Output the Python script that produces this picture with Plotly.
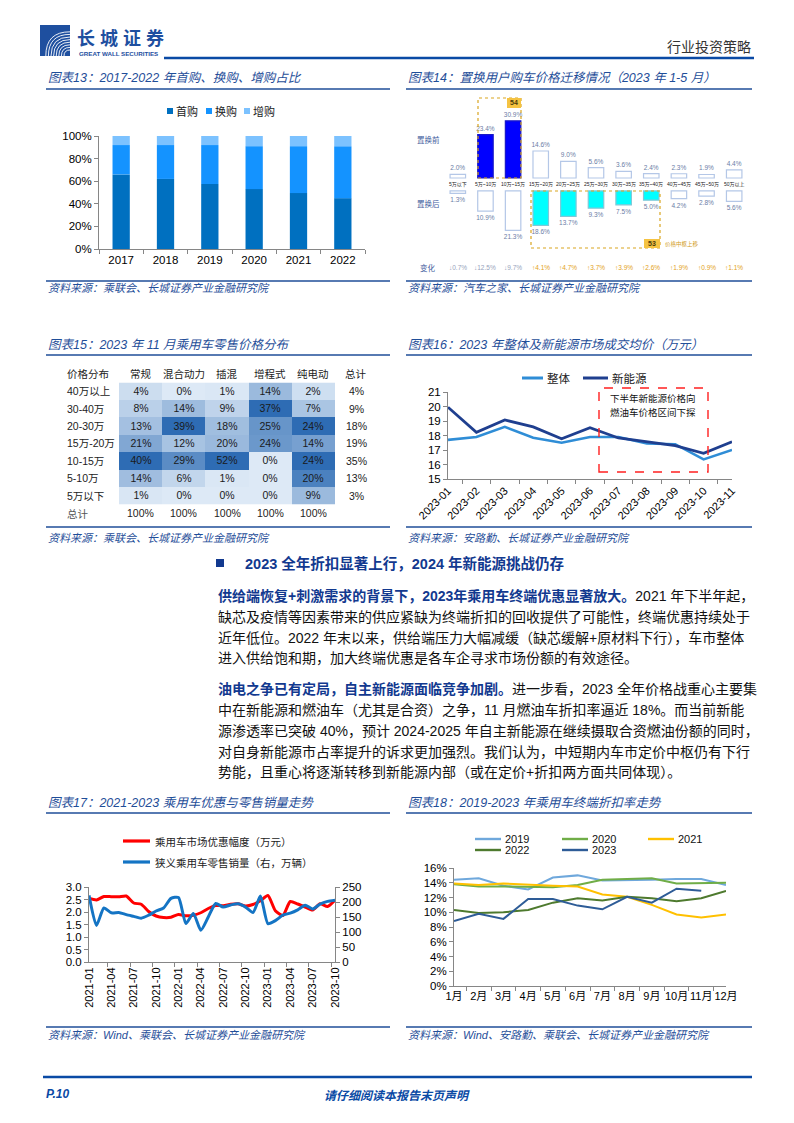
import plotly.graph_objects as go

W, H = 794, 1123
def X(p): return p / W
def Y(p): return 1 - p / H

BLUE = '#1F4E99'
NAVY = '#12398F'
SANS = 'Liberation Sans, Noto Sans CJK SC'
CJK = 'Noto Sans CJK SC, Liberation Sans'

# ---------------- data ----------------
# Chart 13
years13 = ['2017', '2018', '2019', '2020', '2021', '2022']
first_buy13 = [0.66, 0.62, 0.575, 0.53, 0.495, 0.45]
replace_buy13 = [0.26, 0.30, 0.345, 0.38, 0.415, 0.46]
add_buy13 = [0.08, 0.08, 0.08, 0.09, 0.09, 0.09]

# Chart 14
bands14 = ['5万以下', '5万~10万', '10万~15万', '15万~20万', '20万~25万', '25万~30万',
           '30万~35万', '35万~40万', '40万~45万', '45万~50万', '50万以上']
before14 = [2.0, 23.4, 30.9, 14.6, 9.0, 5.6, 3.6, 2.4, 2.3, 1.9, 4.4]
after14 = [1.3, 10.9, 21.3, 18.6, 13.7, 9.3, 7.5, 5.0, 4.2, 2.8, 5.6]
change14 = ['↓0.7%', '↓12.5%', '↓9.7%', '↑4.1%', '↑4.7%', '↑3.7%', '↑3.9%', '↑2.6%', '↑1.9%', '↑0.9%', '↑1.1%']
hl_before14 = ['5万~10万', '10万~15万']
hl_after14 = ['15万~20万', '20万~25万', '25万~30万', '30万~35万', '35万~40万']

# Chart 15
rows15 = ['40万以上', '30-40万', '20-30万', '15万-20万', '10-15万', '5-10万', '5万以下']
cols15 = ['常规', '混合动力', '插混', '增程式', '纯电动']
dist15 = {
    '常规': [4, 8, 13, 21, 40, 14, 1],
    '混合动力': [0, 14, 39, 12, 29, 6, 0],
    '插混': [1, 9, 18, 20, 52, 1, 0],
    '增程式': [14, 37, 25, 24, 0, 0, 0],
    '纯电动': [2, 7, 24, 14, 24, 20, 9],
}
row_total15 = [4, 9, 18, 19, 35, 13, 3]
col_total15 = [100, 100, 100, 100, 100]

# Chart 16
months16 = ['2023-01', '2023-02', '2023-03', '2023-04', '2023-05', '2023-06',
            '2023-07', '2023-08', '2023-09', '2023-10', '2023-11']
overall16 = [17.7, 17.9, 18.6, 17.85, 17.5, 17.9, 17.9, 17.45, 17.4, 16.35, 17.0]
nev16 = [19.95, 18.22, 19.07, 18.59, 17.78, 18.54, 17.83, 17.57, 17.3, 16.77, 17.57]

# Chart 17
months17 = ['2021-01', '2021-02', '2021-03', '2021-04', '2021-05', '2021-06',
            '2021-07', '2021-08', '2021-09', '2021-10', '2021-11', '2021-12',
            '2022-01', '2022-02', '2022-03', '2022-04', '2022-05', '2022-06',
            '2022-07', '2022-08', '2022-09', '2022-10', '2022-11', '2022-12',
            '2023-01', '2023-02', '2023-03', '2023-04', '2023-05', '2023-06',
            '2023-07', '2023-08', '2023-09', '2023-10']
discount17 = [2.55, 2.48, 2.62, 2.61, 2.61, 2.64, 2.36, 2.31, 2.02, 1.84, 1.78, 1.79,
              1.90, 1.85, 1.87, 1.97, 2.14, 2.26, 2.25, 2.31, 2.33, 2.24, 2.30, 2.45,
              2.66, 2.05, 1.86, 2.42, 2.32, 2.20, 2.08, 2.33, 2.22, 2.48]
sales17 = [222, 122, 180, 164, 165, 158, 152, 146, 156, 170, 180, 212,
           215, 128, 162, 106, 150, 195, 183, 190, 194, 183, 165, 220,
           128, 138, 156, 163, 174, 189, 177, 193, 202, 206]

# Chart 18
months18 = ['1月', '2月', '3月', '4月', '5月', '6月', '7月', '8月', '9月', '10月', '11月', '12月']
rate2019 = [0.144, 0.146, 0.136, 0.131, 0.147, 0.150, 0.143, 0.143, 0.144, 0.145, 0.145, 0.137]
rate2020 = [0.138, 0.135, 0.135, 0.134, 0.134, 0.137, 0.144, 0.145, 0.146, 0.139, 0.140, 0.140]
rate2021 = [0.139, 0.137, 0.139, 0.137, 0.136, 0.135, 0.124, 0.121, 0.110, 0.097, 0.093, 0.097]
rate2022 = [0.103, 0.099, 0.100, 0.103, 0.113, 0.119, 0.116, 0.121, 0.119, 0.115, 0.119, 0.129]
rate2023 = [0.088, 0.098, 0.091, 0.118, 0.118, 0.109, 0.104, 0.121, 0.113, 0.132, 0.129]

# ---------------- helpers ----------------
shapes = []
ann = []

def text(x, y, s, size=11, color='#000', family=SANS, xanchor='left', yanchor='middle',
         bold=False, italic=False, xref='paper', yref='paper', raw_x=False, raw_y=False):
    ann.append(dict(
        x=x if raw_x else X(x), y=y if raw_y else Y(y), xref=xref, yref=yref, text=s,
        showarrow=False, xanchor=xanchor, yanchor=yanchor, borderpad=0,
        font=dict(size=size, color=color, family=family,
                  weight='bold' if bold else 'normal',
                  style='italic' if italic else 'normal')))

def hline(x0, x1, y, color=BLUE, width=1.3, dash=None):
    shapes.append(dict(type='line', xref='paper', yref='paper', x0=X(x0), x1=X(x1),
                       y0=Y(y), y1=Y(y), line=dict(color=color, width=width, dash=dash)))

def rect(x0, y0, x1, y1, fill='rgba(0,0,0,0)', lcolor=None, lw=1, dash=None):
    shapes.append(dict(type='rect', xref='paper', yref='paper', x0=X(x0), x1=X(x1),
                       y0=Y(y1), y1=Y(y0), fillcolor=fill,
                       line=dict(color=lcolor or 'rgba(0,0,0,0)', width=lw if lcolor else 0, dash=dash)))

fig = go.Figure()

# ---------------- header / footer ----------------
rect(40, 25, 70, 56, fill='#1E4F9F')
for i in range(8):
    r = 6 + 2.6 * i
    x0, y0 = 70 - r, 56
    x1, y1 = 70, 56 - r
    shapes.append(dict(type='path', xref='paper', yref='paper',
                       path=f'M {X(x0)},{Y(y0)} Q {X(x0)},{Y(y1)} {X(x1)},{Y(y1)}',
                       line=dict(color='white', width=0.9)))
for i, ch in enumerate('长城证券'):
    text(86 + 23 * i, 37, ch, size=18, color='#1E4F9F', family=CJK, xanchor='center', bold=True)
text(78, 53.5, 'GREAT WALL SECURITIES', size=6.2, color='#1E4F9F', bold=True)
text(752, 46, '行业投资策略', size=14, color='#333333', family=CJK, xanchor='right')
hline(164, 754, 58, color='#0A4AA5', width=2.6)

hline(43, 752, 1077, color='#0A4AA5', width=2.6)
text(45, 1094, 'P.10', size=12, color='#0A4AA5', bold=True, italic=True)
text(397, 1094, '请仔细阅读本报告末页声明', size=12, color='#0A4AA5', family=CJK,
     xanchor='center', bold=True, italic=True)

# ---------------- titles & sources ----------------
titles = [
    (47, 78, '图表13：2017-2022 年首购、换购、增购占比'),
    (407, 78, '图表14：置换用户购车价格迁移情况（2023 年 1-5 月）'),
    (47, 345, '图表15：2023 年 11 月乘用车零售价格分布'),
    (407, 345, '图表16：2023 年整体及新能源市场成交均价（万元）'),
    (47, 803, '图表17：2021-2023 乘用车优惠与零售销量走势'),
    (407, 803, '图表18：2019-2023 年乘用车终端折扣率走势'),
]
for x, y, s in titles:
    text(x, y, s, size=12.5, color=BLUE, italic=True)
sources = [
    (47, 288, '资料来源：乘联会、长城证券产业金融研究院'),
    (407, 288, '资料来源：汽车之家、长城证券产业金融研究院'),
    (47, 538, '资料来源：乘联会、长城证券产业金融研究院'),
    (407, 538, '资料来源：安路勤、长城证券产业金融研究院'),
    (47, 1035, '资料来源：Wind、乘联会、长城证券产业金融研究院'),
    (407, 1035, '资料来源：Wind、安路勤、乘联会、长城证券产业金融研究院'),
]
for x, y, s in sources:
    text(x, y, s, size=11, color=BLUE, italic=True)
for y in (89, 355, 813, 281, 527, 1027):
    hline(46, 390, y)
    hline(406, 752, y)

# ---------------- body text ----------------
rect(216, 559, 224, 567, fill='#12398F')
text(244, 563, '2023 全年折扣显著上行，2024 年新能源挑战仍存', size=14.5, color=NAVY, bold=True)

def lead(s):
    return f'<b><span style="color:{NAVY}">{s}</span></b>'

body = [
    (596, lead('供给端恢复+刺激需求的背景下，2023年乘用车终端优惠显著放大。') + '2021 年下半年起，'),
    (617, '缺芯及疫情等因素带来的供应紧缺为终端折扣的回收提供了可能性，终端优惠持续处于'),
    (638, '近年低位。2022 年末以来，供给端压力大幅减缓（缺芯缓解+原材料下行），车市整体'),
    (658, '进入供给饱和期，加大终端优惠是各车企寻求市场份额的有效途径。'),
    (689, lead('油电之争已有定局，自主新能源面临竞争加剧。') + '进一步看，2023 全年价格战重心主要集'),
    (710, '中在新能源和燃油车（尤其是合资）之争，11 月燃油车折扣率逼近 18%。而当前新能'),
    (731, '源渗透率已突破 40%，预计 2024-2025 年自主新能源在继续摄取合资燃油份额的同时，'),
    (752, '对自身新能源市占率提升的诉求更加强烈。我们认为，中短期内车市定价中枢仍有下行'),
    (772, '势能，且重心将逐渐转移到新能源内部（或在定价+折扣两方面共同体现）。'),
]
for y, s in body:
    text(217, y, s, size=14, color='#111111')

# ---------------- chart 13 ----------------
base_add13 = [a + b for a, b in zip(first_buy13, replace_buy13)]
fig.add_trace(go.Bar(x=years13, y=first_buy13, base=0, width=0.39, marker=dict(color='#0070C0', line=dict(width=0)),
                     xaxis='x', yaxis='y', name='首购'))
fig.add_trace(go.Bar(x=years13, y=replace_buy13, base=first_buy13, width=0.39, marker=dict(color='#1493FF', line=dict(width=0)),
                     xaxis='x', yaxis='y', name='换购'))
fig.add_trace(go.Bar(x=years13, y=add_buy13, base=base_add13, width=0.39, marker=dict(color='#7CC2FF', line=dict(width=0)),
                     xaxis='x', yaxis='y', name='增购'))
for (sx, lab, col) in [(167, '首购', '#0070C0'), (206, '换购', '#1493FF'), (244, '增购', '#7CC2FF')]:
    rect(sx, 108, sx + 6, 114, fill=col)
    text(sx + 8, 111, lab, size=11, color='#222', family=CJK)

# ---------------- chart 14 ----------------
top_fill = ['#0000FF' if b in hl_before14 else 'white' for b in bands14]
top_line = ['#1818C8' if b in hl_before14 else '#B4C7E7' for b in bands14]
bot_fill = ['#00FFFF' if b in hl_after14 else 'white' for b in bands14]
bot_line = ['#7FC8D8' if b in hl_after14 else '#B4C7E7' for b in bands14]
fig.add_trace(go.Bar(x=bands14, y=before14, base=0, width=0.56,
                     marker=dict(color=top_fill, line=dict(color=top_line, width=1.2)),
                     text=[f'{v:.1f}%' for v in before14], textposition='outside', constraintext='none',
                     textfont=dict(size=6.5, color='#6B7DA6', family=SANS), cliponaxis=False,
                     xaxis='x2', yaxis='y2', name='置换前'))
fig.add_trace(go.Bar(x=bands14, y=[-v for v in after14], base=-7.0, width=0.56,
                     marker=dict(color=bot_fill, line=dict(color=bot_line, width=1.2)),
                     text=[f'{v:.1f}%' for v in after14], textposition='outside', constraintext='none',
                     textfont=dict(size=6.5, color='#6B7DA6', family=SANS), cliponaxis=False,
                     xaxis='x2', yaxis='y2', name='置换后'))
for b, c in zip(bands14, change14):
    text(b, 184.5, b, size=5, color='#222', xanchor='center', xref='x2', raw_x=True)
    text(b, 267, c, size=6.5, color='#97A3BC' if c.startswith('↓') else '#E3A21A',
         xanchor='center', xref='x2', raw_x=True)
text(428, 139, '置换前', size=7.5, color='#3F5E9E', family=CJK, xanchor='center')
text(428, 203, '置换后', size=7.5, color='#3F5E9E', family=CJK, xanchor='center')
text(428, 267, '变化', size=7.5, color='#3F5E9E', family=CJK, xanchor='center')
GOLD = '#D9A520'
rect(478, 98, 521, 178, lcolor=GOLD, lw=1.2, dash='dot')
rect(531, 191, 660, 248, lcolor=GOLD, lw=1.2, dash='dot')
rect(507, 98, 521, 108, fill='#F5C342')
text(514, 103, '54', size=7, color='#4A3B0A', xanchor='center', bold=True)
rect(644, 239, 660, 248, fill='#F5C342')
text(652, 243.5, '53', size=7, color='#4A3B0A', xanchor='center', bold=True)
text(664, 244.5, '价格中枢上移', size=5.5, color='#D29B1E', family=CJK)

# ---------------- chart 15 ----------------
colmax15 = {c: max(dist15[c]) for c in cols15}
z15 = [[dist15[c][r] / colmax15[c] for c in cols15] for r in range(len(rows15))]
txt15 = [[f'{dist15[c][r]}%' for c in cols15] for r in range(len(rows15))]
fig.add_trace(go.Heatmap(x=cols15, y=rows15, z=z15, text=txt15, texttemplate='%{text}',
                         textfont=dict(size=10.5, color='#1A1A1A', family=SANS),
                         colorscale=[[0, '#DDE9F6'], [1, '#2E6CB4']], zmin=0, zmax=1,
                         showscale=False, xaxis='x3', yaxis='y3', hoverinfo='skip'))
text(66, 373, '价格分布', size=10.5, color='#222', family=CJK)
for c, t in zip(cols15, col_total15):
    text(c, 373, c, size=10.5, color='#222', family=CJK, xanchor='center', xref='x3', raw_x=True)
    text(c, 513, f'{t}%', size=10.5, color='#222', xanchor='center', xref='x3', raw_x=True)
text(356, 373, '总计', size=10.5, color='#222', family=CJK, xanchor='center')
text(66, 513, '总计', size=10.5, color='#555', family=CJK)
for r, t in zip(rows15, row_total15):
    text(66, r, r, size=10.5, color='#222', yref='y3', raw_y=True)
    text(356, r, f'{t}%', size=10.5, color='#222', xanchor='center', yref='y3', raw_y=True)

# ---------------- chart 16 ----------------
fig.add_trace(go.Scatter(x=months16, y=overall16, mode='lines', line=dict(color='#2F8DD6', width=2.6),
                         xaxis='x4', yaxis='y4', name='整体'))
fig.add_trace(go.Scatter(x=months16, y=nev16, mode='lines', line=dict(color='#1F3F8F', width=2.8),
                         xaxis='x4', yaxis='y4', name='新能源'))
hline(522, 543, 378, color='#2F8DD6', width=3)
text(546, 378, '整体', size=11.5, color='#222', family=CJK)
hline(583, 608, 378, color='#1F3F8F', width=3)
text(611, 378, '新能源', size=11.5, color='#222', family=CJK)
rect(599, 388, 708, 472, lcolor='#FF2020', lw=1.4, dash='dash')
text(609, 398.5, '下半年新能源价格向', size=9.5, color='#111', family=CJK)
text(609, 411.5, '燃油车价格区间下探', size=9.5, color='#111', family=CJK)

# ---------------- chart 17 ----------------
fig.add_trace(go.Scatter(x=months17, y=discount17, mode='lines',
                         line=dict(color='#FF0000', width=3, shape='spline', smoothing=0.6),
                         xaxis='x5', yaxis='y5', name='乘用车市场优惠幅度（万元）'))
fig.add_trace(go.Scatter(x=months17, y=sales17, mode='lines',
                         line=dict(color='#1474C4', width=3, shape='spline', smoothing=0.6),
                         xaxis='x5', yaxis='y6', name='狭义乘用车零售销量（右，万辆）'))
hline(123, 150, 841, color='#FF0000', width=3.2)
text(154, 841, '乘用车市场优惠幅度（万元）', size=10.5, color='#222', family=CJK)
hline(123, 150, 862, color='#1474C4', width=3.2)
text(154, 862, '狭义乘用车零售销量（右，万辆）', size=10.5, color='#222', family=CJK)

# ---------------- chart 18 ----------------
series18 = [('2019', rate2019, '#6FA8DC'), ('2020', rate2020, '#70AD47'), ('2021', rate2021, '#FFC000'),
            ('2022', rate2022, '#4E7A2E'), ('2023', rate2023, '#2E5C97')]
for name, vals, col in series18:
    fig.add_trace(go.Scatter(x=months18[:len(vals)], y=vals, mode='lines', line=dict(color=col, width=2),
                             xaxis='x6', yaxis='y7', name=name))
leg18 = [(475, 839), (562, 839), (648, 839), (475, 850), (562, 850)]
for (lx, ly), (name, vals, col) in zip(leg18, series18):
    hline(lx, lx + 26, ly, color=col, width=2.4)
    text(lx + 29, ly, name, size=11, color='#111')

# ---------------- layout ----------------
AX = dict(showgrid=False, zeroline=False, linecolor='#868686', linewidth=1, tickcolor='#868686',
          tickfont=dict(size=11.5, color='#000', family=SANS), showline=True, ticks='outside', ticklen=4,
          automargin=False)
AXS = {**AX, 'tickfont': dict(size=11, color='#000', family=SANS)}

fig.update_layout(
    width=W, height=H, margin=dict(l=0, r=0, t=0, b=0, pad=0, autoexpand=False),
    paper_bgcolor='white', plot_bgcolor='white', showlegend=False, hovermode=False,
    barmode='overlay', font=dict(family=SANS),
    xaxis=dict(domain=[X(99), X(365)], anchor='y', type='category', tickson='boundaries', **AX),
    yaxis=dict(domain=[Y(249), Y(136)], anchor='x', range=[0, 1], dtick=0.2, tickformat='.0%', **AX),
    xaxis2=dict(domain=[X(444), X(748)], anchor='y2', type='category', range=[-0.5, 10.5], visible=False, automargin=False),
    yaxis2=dict(domain=[Y(255), Y(95)], anchor='x2', range=[-41.62, 44.86], visible=False, automargin=False),
    xaxis3=dict(domain=[X(119), X(335)], anchor='y3', visible=False, automargin=False),
    yaxis3=dict(domain=[Y(504.5), Y(382.5)], anchor='x3', visible=False, autorange='reversed', automargin=False),
    xaxis4=dict(domain=[X(448), X(732)], anchor='y4', type='category', tickson='boundaries', tickangle=-45, **AXS),
    yaxis4=dict(domain=[Y(479), Y(392)], anchor='x4', range=[15, 21], dtick=1, **AX),
    xaxis5=dict(domain=[X(89), X(335)], anchor='y5', type='category', tickvals=months17[::3], tickangle=-90,
                tickson='boundaries', **AXS),
    yaxis5=dict(domain=[Y(962), Y(887)], anchor='x5', range=[0, 3], dtick=0.5, tickformat='.1f', **AX),
    yaxis6=dict(overlaying='y5', anchor='x5', side='right', range=[0, 250], dtick=50, **AX),
    xaxis6=dict(domain=[X(454), X(726)], anchor='y7', type='category', categoryarray=months18,
                tickson='boundaries', tickangle=0, **AXS),
    yaxis7=dict(domain=[Y(986), Y(868)], anchor='x6', range=[0, 0.16], dtick=0.02, tickformat='.0%', **AX),
    shapes=shapes, annotations=ann,
)

fig.write_html('out.html', config={'displayModeBar': False, 'staticPlot': True},
               post_script="document.body.style.margin='0';document.body.style.padding='0';")
